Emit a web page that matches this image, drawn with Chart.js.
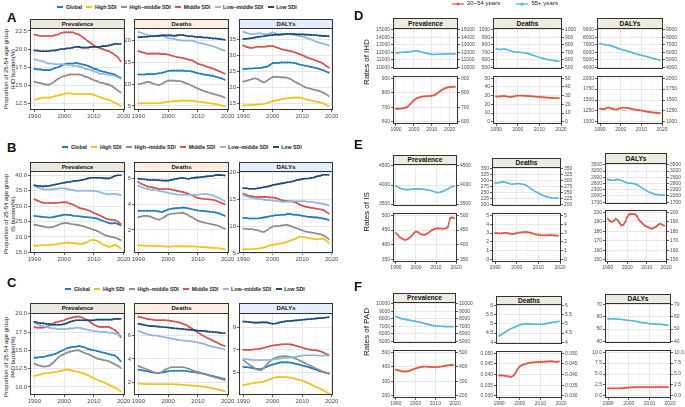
<!DOCTYPE html>
<html>
<head>
<meta charset="utf-8">
<script src="https://cdn.jsdelivr.net/npm/chart.js@4.4.0/dist/chart.umd.min.js"></script>
<style>
  body { margin: 0; background: #fff; font-family: "Liberation Sans", Arial, sans-serif; }
  #fig { position: relative; width: 685px; height: 407px; overflow: hidden; }
  .box { position: absolute; }
  .box canvas { display: block; }
  .strip { position: absolute; box-sizing: border-box; border: 1px solid #333; font-weight: bold; text-align: center; color: #111; white-space: nowrap; }
  .lab { position: absolute; font-weight: bold; font-size: 13px; line-height: 13px; color: #111; }
  .legend { position: absolute; display: flex; justify-content: center; font-size: 5.2px; font-weight: bold; line-height: 8px; color: #222; }
  .li { display: flex; align-items: center; margin: 0 2.2px; white-space: nowrap; }
  .li i { display: inline-block; width: 6px; height: 1.6px; margin-right: 2.5px; }
  .ytitle { position: absolute; text-align: center; white-space: nowrap; transform: translate(-50%, -50%) rotate(-90deg); color: #111; }
</style>
</head>
<body>
<div id="fig"></div>
<script>
// ---- data ----
const years = [1990,1991,1992,1993,1994,1995,1996,1997,1998,1999,2000,2001,2002,2003,2004,
               2005,2006,2007,2008,2009,2010,2011,2012,2013,2014,2015,2016,2017,2018,2019];
const yearsIhdPrev = [1990,1991,1992,1993,1994,1995,1996,1997,1998,1999,2000,2001,2002,2003,2004,2005,2006,
                      2007,2008,2009,2010,2011,2012,2013,2014,2015,2016,2017,2018,2019,2020,2021,2022,2023];
const xTicks = [1990, 2000, 2010, 2020];

const sdiNames = ["Global", "High SDI", "High\u2212middle SDI", "Middle SDI", "Low\u2212middle SDI", "Low SDI"];
const sdiColors = ["#1f7cc4", "#f2c318", "#8e8e8e", "#d6524f", "#8fb7e6", "#1a4d7a"];
const ageNames = ["20\u221254 years", "55+ years"];

// proportion of 25-54 age group (%), rows follow sdiNames
const ihdPrevalence = [
  [17.3,17.2,17.2,17.1,17.1,17.1,17.2,17.4,17.5,17.7,17.9,18.0,18.0,18.0,18.1,18.0,17.9,17.8,17.7,17.5,17.3,17.2,17.0,16.9,16.8,16.7,16.6,16.5,16.2,16.0],
  [13.0,13.1,13.2,13.3,13.3,13.3,13.4,13.5,13.6,13.7,13.8,13.9,13.9,13.8,13.8,13.8,13.8,13.8,13.8,13.8,13.7,13.5,13.4,13.2,13.1,13.0,12.8,12.6,12.4,12.1],
  [15.5,15.4,15.3,15.2,15.1,15.1,15.3,15.6,15.9,16.1,16.3,16.4,16.5,16.5,16.5,16.5,16.4,16.2,16.1,15.9,15.7,15.6,15.4,15.3,15.2,15.1,14.9,14.6,14.3,14.0],
  [22.0,21.9,21.8,21.8,21.8,21.8,21.8,21.9,22.0,22.2,22.3,22.3,22.3,22.3,22.1,22.0,21.7,21.4,21.1,20.8,20.5,20.3,20.1,20.0,19.8,19.7,19.5,19.2,18.9,18.3],
  [18.6,18.5,18.4,18.3,18.1,18.0,18.0,17.9,17.9,17.9,17.9,17.8,17.8,17.7,17.7,17.6,17.5,17.3,17.2,17.1,16.9,16.8,16.6,16.6,16.5,16.5,16.4,16.3,16.1,15.9],
  [19.8,19.8,19.7,19.7,19.7,19.7,19.8,19.8,19.9,20.0,20.0,20.1,20.1,20.2,20.3,20.3,20.2,20.2,20.2,20.3,20.3,20.3,20.3,20.4,20.4,20.5,20.6,20.7,20.7,20.7]
];
const ihdDeaths = [
  [12.2,12.2,12.2,12.3,12.3,12.3,12.4,12.5,12.6,12.8,13.0,13.1,13.1,13.1,13.1,13.1,13.0,13.0,12.9,12.7,12.5,12.4,12.2,12.1,12.0,11.9,11.7,11.5,11.3,11.0],
  [5.6,5.6,5.6,5.6,5.6,5.6,5.6,5.6,5.7,5.8,6.0,6.0,6.1,6.1,6.2,6.2,6.2,6.2,6.2,6.1,5.9,5.9,5.8,5.7,5.6,5.5,5.4,5.3,5.1,4.9],
  [10.0,10.1,10.3,10.5,10.4,10.1,9.9,9.8,10.1,10.5,10.8,10.8,10.8,10.7,10.7,10.5,10.2,10.0,9.6,9.3,9.0,8.7,8.4,8.2,8.0,7.8,7.6,7.4,7.2,6.9],
  [17.6,17.4,17.2,17.0,17.0,17.0,17.0,17.0,16.9,16.9,16.8,16.6,16.4,16.2,16.1,16.0,15.8,15.6,15.5,15.1,14.7,14.5,14.3,14.0,13.8,13.6,13.3,13.0,12.7,12.4],
  [22.0,21.8,21.5,21.3,21.1,21.0,21.1,21.2,21.2,20.9,20.6,20.5,20.4,20.2,20.1,20.0,20.0,20.0,20.0,19.8,19.5,19.4,19.3,19.1,18.9,18.7,18.5,18.2,17.9,17.7],
  [20.8,20.8,20.9,20.9,21.0,21.0,21.1,21.1,21.2,21.2,21.2,21.2,21.1,21.2,21.3,21.3,21.1,21.0,21.0,20.9,20.8,20.8,20.7,20.7,20.6,20.5,20.5,20.4,20.3,20.2]
];
const ihdDalys = [
  [25.8,25.8,25.9,25.9,26.0,26.0,26.1,26.3,26.5,27.0,27.6,27.7,27.7,27.8,27.8,27.8,27.8,27.7,27.5,27.2,27.0,26.8,26.6,26.4,26.2,26.0,25.7,25.4,25.0,24.6],
  [14.2,14.3,14.3,14.4,14.5,14.5,14.6,14.7,15.0,15.3,15.6,15.8,16.0,16.2,16.4,16.5,16.6,16.7,16.8,16.7,16.5,16.2,16.0,15.8,15.6,15.4,15.2,14.9,14.5,14.0],
  [21.8,22.0,22.3,22.6,22.8,22.5,21.9,21.5,22.0,22.7,23.2,23.3,23.2,23.1,23.1,23.0,22.6,22.0,21.5,21.0,20.5,20.0,19.7,19.5,19.2,19.0,18.7,18.3,17.8,17.2],
  [33.2,32.8,32.5,32.4,32.6,32.8,32.8,32.8,32.9,33.0,33.0,32.7,32.3,32.0,31.8,31.6,31.4,31.2,30.8,30.5,30.1,29.7,29.3,29.0,28.7,28.3,28.0,27.5,26.8,26.2],
  [37.5,37.2,36.9,36.8,36.9,37.0,37.0,36.8,36.6,37.0,37.3,37.0,36.6,36.6,36.7,36.8,36.8,36.6,36.4,36.2,36.0,35.7,35.4,35.1,34.7,34.3,34.0,33.8,33.5,33.2],
  [35.2,35.3,35.4,35.5,35.7,35.9,36.0,36.1,36.3,36.4,36.5,36.6,36.6,36.7,36.8,36.8,36.8,36.8,36.7,36.7,36.7,36.6,36.6,36.5,36.5,36.4,36.3,36.2,36.2,36.1]
];
const isPrevalence = [
  [26.8,26.7,26.6,26.5,26.4,26.3,26.4,26.6,26.8,27.0,27.2,27.2,27.1,26.9,26.8,26.7,26.6,26.5,26.4,26.3,26.2,26.0,25.6,25.3,24.9,24.5,24.4,24.5,24.2,23.8],
  [17.2,17.2,17.3,17.3,17.4,17.4,17.5,17.6,17.8,17.9,18.0,18.2,18.1,18.0,17.9,17.8,17.8,18.0,18.5,19.0,19.0,18.8,18.2,17.6,17.2,16.8,17.0,17.5,17.0,16.2],
  [24.0,23.8,23.6,23.4,23.2,23.1,23.2,23.5,23.9,24.3,24.5,24.5,24.3,24.1,24.0,23.8,23.6,23.3,23.0,22.7,22.3,22.0,21.5,21.0,20.5,20.2,20.0,19.8,19.4,19.0],
  [32.2,31.8,31.4,31.1,31.0,31.0,31.0,31.0,31.1,31.2,31.3,31.2,30.8,30.5,30.0,29.5,29.2,29.0,28.7,28.3,27.8,27.4,27.0,26.5,26.0,25.7,25.6,25.5,25.0,24.2],
  [36.5,36.1,35.7,35.5,35.4,35.4,35.5,35.6,35.7,35.8,35.8,35.6,35.4,35.2,35.0,35.0,35.0,35.0,35.0,35.0,34.9,34.8,34.5,34.2,34.0,33.8,33.9,34.0,33.8,33.6],
  [36.8,36.6,36.5,36.4,36.5,36.6,36.8,37.0,37.2,37.4,37.6,37.8,37.9,38.1,38.2,38.3,38.5,38.7,39.0,39.2,39.2,39.2,39.2,39.1,39.0,39.0,39.3,39.8,40.0,40.0]
];
const isDeaths = [
  [3.50,3.50,3.50,3.50,3.50,3.50,3.48,3.44,3.40,3.50,3.60,3.65,3.68,3.70,3.72,3.75,3.72,3.68,3.62,3.57,3.52,3.50,3.48,3.45,3.42,3.40,3.36,3.30,3.20,3.10],
  [0.80,0.79,0.78,0.77,0.76,0.75,0.74,0.73,0.72,0.71,0.70,0.71,0.72,0.72,0.72,0.72,0.72,0.72,0.71,0.71,0.70,0.68,0.66,0.64,0.62,0.60,0.59,0.57,0.54,0.50],
  [3.00,3.05,3.10,3.10,3.05,2.95,2.85,2.80,2.90,3.05,3.20,3.25,3.28,3.30,3.32,3.35,3.25,3.10,3.00,2.85,2.72,2.65,2.58,2.52,2.48,2.42,2.38,2.30,2.20,2.10],
  [5.75,5.60,5.50,5.40,5.35,5.30,5.25,5.20,5.20,5.20,5.20,5.15,5.10,5.05,5.00,4.95,4.90,4.80,4.70,4.60,4.50,4.45,4.42,4.40,4.38,4.35,4.30,4.20,4.10,4.00],
  [5.45,5.35,5.25,5.20,5.15,5.10,5.10,5.05,5.00,4.95,4.90,4.85,4.80,4.77,4.75,4.75,4.75,4.75,4.75,4.75,4.75,4.78,4.80,4.80,4.75,4.70,4.60,4.50,4.38,4.25],
  [6.00,5.98,5.95,5.92,5.90,5.90,5.90,5.88,5.86,5.85,5.85,5.90,5.95,6.00,6.05,6.05,6.02,6.00,6.05,6.08,6.10,6.12,6.15,6.18,6.20,6.22,6.28,6.30,6.28,6.25]
];
const isDalys = [
  [11.5,11.5,11.4,11.4,11.4,11.4,11.5,11.6,11.7,11.8,11.9,12.0,12.0,12.1,12.1,12.2,12.2,12.1,12.1,12.0,11.9,11.8,11.7,11.7,11.6,11.6,11.5,11.4,11.3,11.1],
  [5.7,5.7,5.7,5.7,5.8,5.8,5.9,6.0,6.2,6.4,6.5,6.6,6.7,6.8,6.9,7.1,7.3,7.5,7.7,8.0,8.0,7.9,7.8,7.7,7.6,7.5,7.6,7.7,7.4,6.9],
  [9.5,9.5,9.4,9.4,9.3,9.2,9.0,8.9,9.2,9.6,9.9,10.0,10.0,10.1,10.2,10.2,10.0,9.8,9.6,9.4,9.2,9.0,8.9,8.8,8.7,8.6,8.5,8.3,8.0,7.6],
  [16.0,15.8,15.6,15.5,15.4,15.4,15.4,15.4,15.4,15.3,15.3,15.2,15.0,14.8,14.7,14.6,14.6,14.5,14.3,14.0,13.8,13.6,13.5,13.4,13.3,13.2,13.1,13.0,12.7,12.3],
  [15.7,15.5,15.3,15.2,15.1,15.0,15.0,14.9,14.8,14.8,14.7,14.7,14.6,14.5,14.5,14.5,14.5,14.6,14.6,14.6,14.6,14.6,14.5,14.5,14.4,14.3,14.2,14.1,14.0,13.8],
  [17.0,17.0,16.9,16.9,16.9,17.0,17.1,17.2,17.3,17.4,17.6,17.7,17.8,17.9,18.0,18.1,18.2,18.3,18.5,18.6,18.7,18.8,18.8,18.9,19.0,19.2,19.3,19.5,19.5,19.5]
];
const padPrevalence = [
  [14.0,14.0,14.1,14.1,14.2,14.3,14.4,14.5,14.7,14.9,15.1,15.3,15.4,15.5,15.5,15.6,15.5,15.4,15.2,15.1,15.0,14.9,14.8,14.7,14.6,14.5,14.4,14.3,14.0,13.5],
  [11.5,11.6,11.7,11.8,11.9,11.9,12.0,12.0,12.1,12.2,12.3,12.4,12.3,12.2,12.1,12.0,11.9,11.8,11.6,11.4,11.2,11.0,10.8,10.7,10.5,10.3,10.1,9.9,9.7,9.4],
  [13.2,13.0,12.9,12.8,12.8,12.9,13.2,13.6,14.0,14.3,14.5,14.7,14.8,14.9,15.0,15.0,14.8,14.6,14.5,14.3,14.1,13.9,13.8,13.7,13.6,13.5,13.3,13.1,12.9,12.6],
  [18.2,18.1,18.1,18.1,18.2,18.4,18.6,18.8,18.9,19.0,19.1,19.3,19.4,19.5,19.6,19.6,19.5,19.3,19.1,18.8,18.5,18.3,18.2,18.2,18.2,18.2,18.0,17.8,17.4,16.8],
  [18.8,18.6,18.4,18.3,18.2,18.1,18.0,18.0,17.9,17.9,17.9,17.9,18.0,18.0,18.1,18.1,18.0,17.9,17.8,17.7,17.6,17.6,17.5,17.5,17.5,17.4,17.4,17.3,17.2,17.0],
  [18.9,18.8,18.7,18.7,18.6,18.6,18.5,18.5,18.5,18.5,18.6,18.7,18.9,19.0,19.1,19.1,19.1,19.1,19.1,19.1,19.1,19.2,19.2,19.2,19.2,19.2,19.2,19.3,19.3,19.3]
];
const padDeaths = [
  [3.10,3.05,3.00,2.95,2.90,2.85,2.80,2.82,2.85,2.90,2.95,3.00,3.00,3.00,3.00,3.00,2.97,2.93,2.90,2.87,2.83,2.78,2.73,2.67,2.60,2.55,2.48,2.42,2.35,2.30],
  [1.90,1.89,1.88,1.87,1.86,1.85,1.85,1.85,1.85,1.85,1.85,1.85,1.84,1.83,1.82,1.80,1.78,1.76,1.74,1.72,1.70,1.67,1.63,1.59,1.55,1.50,1.45,1.38,1.32,1.25],
  [3.40,3.30,3.20,3.10,3.00,2.90,2.80,2.80,2.90,3.10,3.20,3.30,3.30,3.30,3.30,3.30,3.25,3.15,3.05,2.95,2.90,2.82,2.75,2.65,2.58,2.50,2.42,2.35,2.28,2.20],
  [7.60,7.55,7.48,7.42,7.38,7.35,7.30,7.30,7.32,7.30,7.28,7.25,7.20,7.15,7.10,7.00,6.90,6.75,6.60,6.42,6.25,6.10,5.95,5.82,5.70,5.58,5.45,5.32,5.20,5.10],
  [6.40,6.30,6.20,6.10,6.05,6.00,6.00,5.95,5.90,5.85,5.80,5.75,5.70,5.65,5.60,5.58,5.55,5.52,5.50,5.45,5.40,5.35,5.30,5.20,5.12,5.05,5.00,4.95,4.88,4.80],
  [7.00,6.95,6.90,6.85,6.80,6.80,6.78,6.75,6.72,6.70,6.68,6.65,6.62,6.60,6.58,6.55,6.52,6.50,6.48,6.45,6.42,6.40,6.38,6.35,6.32,6.30,6.28,6.25,6.22,6.20]
];
const padDalys = [
  [5.50,5.48,5.45,5.40,5.35,5.32,5.30,5.40,5.52,5.62,5.70,5.78,5.85,5.90,5.90,5.90,5.88,5.82,5.76,5.70,5.62,5.55,5.48,5.40,5.32,5.22,5.12,5.05,4.98,4.92],
  [3.90,3.95,4.00,4.05,4.10,4.12,4.15,4.20,4.30,4.40,4.50,4.58,4.60,4.60,4.60,4.58,4.55,4.50,4.42,4.35,4.28,4.18,4.08,3.95,3.82,3.70,3.58,3.45,3.30,3.15],
  [6.10,5.90,5.70,5.55,5.35,5.25,5.20,5.40,5.70,6.00,6.20,6.30,6.38,6.42,6.45,6.42,6.38,6.30,6.20,6.08,5.95,5.82,5.70,5.58,5.45,5.32,5.20,5.08,4.98,4.90],
  [7.00,7.00,7.00,7.02,7.05,7.08,7.12,7.18,7.25,7.32,7.38,7.42,7.45,7.48,7.50,7.50,7.48,7.42,7.35,7.28,7.20,7.12,7.05,7.00,6.98,6.95,6.88,6.78,6.65,6.55],
  [6.20,6.18,6.15,6.12,6.10,6.10,6.10,6.10,6.10,6.12,6.15,6.18,6.22,6.25,6.28,6.30,6.33,6.36,6.40,6.45,6.50,6.52,6.52,6.52,6.52,6.50,6.50,6.50,6.50,6.50],
  [9.50,9.48,9.45,9.42,9.40,9.40,9.42,9.42,9.42,9.35,9.30,9.32,9.40,9.45,9.50,9.55,9.55,9.58,9.60,9.62,9.65,9.68,9.70,9.72,9.75,9.78,9.80,9.82,9.85,9.88]
];

// rates by age group (55+ = old, 20-54 = young)
const ihdPrevOld = [11900,11920,11950,11980,12000,12000,12020,12050,12080,12120,12150,12200,12180,12120,12050,11980,11920,11870,11820,11780,11730,11700,11700,11710,11720,11730,11740,11750,11760,11770,11780,11780,11790,11790];
const ihdPrevYoung = [690,690,691,692,693,695,700,710,722,735,748,757,763,768,772,774,775,776,777,778,779,782,787,795,805,814,822,829,834,837,839,840,841,841];
const ihdDeathsOld = [745,740,735,742,745,735,725,715,708,702,700,698,695,692,688,680,670,660,650,640,630,622,615,607,600,595,590,585,580,578];
const ihdDeathsYoung = [29.0,29.0,29.2,29.5,29.5,29.0,28.7,28.5,29.0,29.5,30.0,30.0,30.0,29.8,29.6,29.5,29.3,29.1,28.9,28.7,28.5,28.3,28.1,27.9,27.7,27.5,27.3,27.2,27.1,27.0];
const ihdDalysOld = [7150,7100,7020,6980,6950,6900,6800,6700,6600,6480,6380,6320,6250,6180,6100,6000,5900,5820,5740,5660,5600,5530,5450,5380,5300,5220,5150,5080,5010,4950];
const ihdDalysYoung = [1300,1295,1290,1310,1330,1315,1300,1285,1280,1300,1315,1325,1325,1320,1310,1300,1290,1280,1270,1265,1260,1250,1240,1232,1225,1218,1212,1207,1203,1200];
const isPrevOld = [3980,3950,3920,3900,3890,3880,3880,3885,3890,3895,3900,3900,3895,3890,3885,3880,3870,3860,3845,3825,3810,3800,3810,3830,3850,3875,3900,3930,3955,3970];
const isPrevYoung = [440,433,426,421,418,417,420,425,432,440,445,443,438,435,434,436,440,445,450,453,455,456,455,455,455,456,462,490,493,490];
const isDeathsOld = [290,290,292,294,295,292,289,286,285,286,287,287,286,284,282,277,270,263,257,252,247,242,238,234,231,229,227,226,226,226];
const isDeathsYoung = [3.00,2.98,2.96,2.97,3.00,3.00,2.97,2.92,2.88,2.92,3.00,3.05,3.08,3.10,3.12,3.10,3.05,2.98,2.90,2.84,2.80,2.76,2.74,2.74,2.75,2.75,2.75,2.74,2.72,2.70];
const isDalysOld = [2800,2780,2760,2750,2780,2800,2780,2740,2700,2660,2630,2620,2610,2600,2580,2540,2480,2420,2360,2300,2250,2200,2160,2120,2090,2070,2055,2045,2035,2030];
const isDalysYoung = [193,191,190,191,193,192,189,186,187,190,195,198,198,198,198,196,192,190,188,186,185,184,183,183,184,185,187,188,187,186];
const padPrevOld = [8300,8200,8100,8000,7950,7900,7850,7800,7750,7700,7650,7600,7550,7480,7400,7330,7270,7200,7150,7100,7050,7020,7000,6980,6970,6960,6950,6950,6950,6950];
const padPrevYoung = [380,376,372,369,367,367,369,373,378,383,388,392,396,399,401,401,400,399,398,397,396,397,399,401,404,407,409,411,412,412];
const padDeathsOld = [4.35,4.40,4.48,4.55,4.63,4.70,4.75,4.80,4.85,4.90,4.95,4.97,4.99,5.00,5.00,5.00,4.99,4.98,4.98,4.98,4.98,4.99,5.01,5.03,5.05,5.07,5.09,5.11,5.13,5.15];
const padDeathsYoung = [0.0395,0.0396,0.0395,0.0394,0.0392,0.0390,0.0389,0.0395,0.0408,0.0425,0.0437,0.0443,0.0447,0.0450,0.0453,0.0455,0.0456,0.0457,0.0458,0.0458,0.0459,0.0460,0.0460,0.0461,0.0461,0.0462,0.0461,0.0460,0.0459,0.0461];
const padDalysOld = [58.5,58.5,58.5,58.5,58.4,58.2,58.0,57.8,57.6,57.4,57.2,57.0,56.8,56.5,56.2,55.8,55.5,55.2,55.0,54.7,54.5,54.3,54.2,54.1,54.0,53.9,53.8,53.6,53.3,53.1];
const padDalysYoung = [1.70,1.70,1.70,1.70,1.70,1.70,1.72,1.75,1.80,1.85,1.90,1.92,1.95,1.97,1.98,2.00,2.00,2.00,2.00,2.00,2.00,2.00,2.00,2.00,2.00,2.00,2.00,2.00,2.00,2.00];

// ---- drawing helpers ----
Chart.defaults.font.family = "'Liberation Sans', Arial, sans-serif";
const fig = document.getElementById("fig");
const RED = "#e5533f", CYAN = "#4fb9db";

function el(cls, css, text) {
  const d = document.createElement("div");
  d.className = cls;
  Object.assign(d.style, css);
  if (text !== undefined) d.textContent = text;
  fig.appendChild(d);
  return d;
}

// major ticks plus half-step minor ticks (grid only)
function tickObjs(major, min, max) {
  const step = major.length > 1 ? major[1] - major[0] : 1;
  const list = [{ value: major[0] - step / 2, minor: true }];
  major.forEach(v => {
    list.push({ value: v, minor: false });
    list.push({ value: v + step / 2, minor: true });
  });
  return list.filter(t => t.value >= min - 1e-9 && t.value <= max + 1e-9);
}

const isMinor = c => c.tick && c.tick.minor;
const gridColor = c => isMinor(c) ? "#f2f2f2" : "#e4e4e4";
const gridWidth = c => isMinor(c) ? 0.5 : 0.9;
const tickColor = c => isMinor(c) ? "rgba(0,0,0,0)" : "#333";

const boxBorder = {
  id: "boxBorder",
  afterDraw(chart) {
    const a = chart.chartArea, ctx = chart.ctx;
    ctx.save();
    ctx.strokeStyle = "#333";
    ctx.lineWidth = 1;
    ctx.strokeRect(Math.round(a.left) + 0.5, Math.round(a.top) + 0.5, Math.round(a.width) - 1, Math.round(a.height) - 1);
    ctx.restore();
  }
};

function plot(o) {
  const T = 5;
  const B = o.xLabels ? 10 : 0;
  const R = o.R || 0;
  const padR = R ? 0 : (o.padRight || 0);
  const W = o.L + o.w + R + padR;
  const H = T + (o.bot - o.top) + B;
  const wrap = el("box", { left: (o.x - o.L) + "px", top: (o.top - T) + "px", width: W + "px", height: H + "px" });
  const cv = document.createElement("canvas");
  cv.width = W; cv.height = H;
  cv.style.width = W + "px"; cv.style.height = H + "px";
  wrap.appendChild(cv);
  const font = { size: o.fontSize };

  const yAxis = (pos, width) => ({
    type: "linear", position: pos, min: o.ymin, max: o.ymax,
    afterBuildTicks: s => { s.ticks = tickObjs(o.yticks, o.ymin, o.ymax); },
    afterFit: s => { s.width = width; s.paddingTop = 0; s.paddingBottom = 0; },
    ticks: { autoSkip: false, padding: 1, color: "#4d4d4d", font, callback: (v, i, t) => t[i].minor ? "" : o.fmt(v) },
    grid: { drawOnChartArea: pos === "left", color: gridColor, lineWidth: gridWidth, tickLength: 2, tickWidth: 0.8, tickColor },
    border: { display: false }
  });

  const scales = {
    x: {
      type: "linear", min: o.xmin, max: o.xmax,
      afterBuildTicks: s => { s.ticks = tickObjs(xTicks, o.xmin, o.xmax); },
      afterFit: s => { s.height = B; s.paddingLeft = 0; s.paddingRight = 0; },
      ticks: { display: o.xLabels, autoSkip: false, maxRotation: 0, padding: 0.5, color: "#4d4d4d", font, callback: (v, i, t) => t[i].minor ? "" : String(v) },
      grid: { color: gridColor, lineWidth: gridWidth, drawTicks: o.xLabels, tickLength: 2, tickWidth: 0.8, tickColor },
      border: { display: false }
    },
    y: yAxis("left", o.L)
  };
  if (R) scales.y2 = yAxis("right", R);

  new Chart(cv, {
    type: "line",
    data: { datasets: o.datasets },
    options: {
      responsive: false, animation: false, events: [],
      layout: { padding: { top: T, right: padR, bottom: 0, left: 0 } },
      plugins: { legend: { display: false }, tooltip: { enabled: false } },
      scales
    },
    plugins: [boxBorder]
  });
}

function pts(xs, vals) {
  return xs.map((yr, i) => ({ x: yr, y: vals[i] }));
}

function strip(x, w, top, plotTop, text, bg, fs) {
  el("strip", {
    left: x + "px", top: top + "px", width: w + "px", height: (plotTop - top + 1) + "px",
    background: bg, fontSize: fs + "px", lineHeight: (plotTop - top - 1) + "px"
  }, text);
}

// ---- left block: proportion of 25-54 age group, by SDI ----
const leftCols = [
  { x: 30, w: 95, name: "Prevalence", bg: "#ebe9df" },
  { x: 134, w: 95, name: "Deaths", bg: "#fdf0e2" },
  { x: 239, w: 94, name: "DALYs", bg: "#e3eefa" }
];
const fmt1 = v => v.toFixed(1);
const fmt0 = v => String(v);
const leftRows = [
  { strip: 19, top: 28, bot: 110, label: "A", labTop: 11, legY: 7, legX: 177, cause: "IHD", titleY: 69,
    panels: [
      { data: ihdPrevalence, ymin: 11.6, ymax: 22.9, ticks: [12.5, 15, 17.5, 20, 22.5], fmt: fmt1 },
      { data: ihdDeaths, ymin: 4.05, ymax: 22.9, ticks: [5, 10, 15, 20], fmt: fmt0 },
      { data: ihdDalys, ymin: 12.8, ymax: 38.7, ticks: [15, 20, 25, 30, 35], fmt: fmt0 }
    ] },
  { strip: 162, top: 171, bot: 253, label: "B", labTop: 141, legY: 147, legX: 182, cause: "IS", titleY: 214,
    panels: [
      { data: isPrevalence, ymin: 14.8, ymax: 41.4, ticks: [15, 20, 25, 30, 35, 40], fmt: fmt1 },
      { data: isDeaths, ymin: 0.2, ymax: 6.6, ticks: [2, 4, 6], fmt: fmt0 },
      { data: isDalys, ymin: 5.0, ymax: 20.2, ticks: [5, 10, 15, 20], fmt: fmt0 }
    ] },
  { strip: 303, top: 313, bot: 395, label: "C", labTop: 276, legY: 289, legX: 185, cause: "PAD", titleY: 357,
    panels: [
      { data: padPrevalence, ymin: 8.9, ymax: 20.1, ticks: [10, 12.5, 15, 17.5, 20], fmt: fmt1 },
      { data: padDeaths, ymin: 0.93, ymax: 7.92, ticks: [2, 4, 6], fmt: fmt0 },
      { data: padDalys, ymin: 3.02, ymax: 10.25, ticks: [5, 7, 9], fmt: fmt0 }
    ] }
];

leftRows.forEach(row => {
  el("lab", { left: "7px", top: row.labTop + "px" }, row.label);
  const leg = el("legend", { left: (row.legX - 150) + "px", top: (row.legY - 4) + "px", width: "300px" });
  sdiNames.forEach((n, i) => {
    const it = document.createElement("span");
    it.className = "li";
    it.innerHTML = '<i style="background:' + sdiColors[i] + '"></i>' + n;
    leg.appendChild(it);
  });
  el("ytitle", { left: "10px", top: row.titleY + "px", fontSize: "6px", lineHeight: "7px" }).innerHTML =
    "Proportion of 25-54 age group<br>" + row.cause + " burden(%)";

  row.panels.forEach((p, c) => {
    const col = leftCols[c];
    strip(col.x, col.w, row.strip, row.top, col.name, col.bg, 6);
    plot({
      x: col.x, w: col.w, top: row.top, bot: row.bot, L: 20, padRight: 8, xLabels: true, fontSize: 6,
      xmin: 1988.55, xmax: 2020.45, ymin: p.ymin, ymax: p.ymax, yticks: p.ticks, fmt: p.fmt,
      datasets: p.data.map((vals, i) => ({
        data: pts(years, vals), borderColor: sdiColors[i], backgroundColor: sdiColors[i],
        borderWidth: 1.6, pointRadius: 0.9, pointBorderWidth: 0, pointBackgroundColor: sdiColors[i],
        tension: 0, fill: false, order: 5 - i
      }))
    });
  });
});

// ---- right block: rates by age group ----
const rightRows = [
  { label: "D", labTop: 9, cause: "IHD", titleY: 62,
    panels: [
      { name: "Prevalence", x: 393, w: 65, strip: 18, uTop: 28, uBot: 73, lTop: 76, lBot: 124, xs: yearsIhdPrev, xmin: 1988.35, xmax: 2024.65,
        old: ihdPrevOld, oMin: 9750, oMax: 15250, oTicks: [10000, 11000, 12000, 13000, 14000, 15000],
        young: ihdPrevYoung, yMin: 585, yMax: 915, yTicks: [600, 700, 800, 900], fmt: fmt0 },
      { name: "Deaths", x: 493, w: 69, strip: 18, uTop: 28, uBot: 73, lTop: 76, lBot: 124, xs: years, xmin: 1988.55, xmax: 2020.45,
        old: ihdDeathsOld, oMin: 475, oMax: 1025, oTicks: [500, 600, 700, 800, 900, 1000],
        young: ihdDeathsYoung, yMin: -2.5, yMax: 52.5, yTicks: [0, 10, 20, 30, 40, 50], fmt: fmt0 },
      { name: "DALYs", x: 597, w: 66, strip: 18, uTop: 28, uBot: 73, lTop: 76, lBot: 124, xs: years, xmin: 1988.55, xmax: 2020.45,
        old: ihdDalysOld, oMin: 3750, oMax: 9250, oTicks: [4000, 5000, 6000, 7000, 8000, 9000],
        young: ihdDalysYoung, yMin: 950, yMax: 2050, yTicks: [1000, 1250, 1500, 1750, 2000], fmt: fmt0 }
    ] },
  { label: "E", labTop: 138, cause: "IS", titleY: 212,
    panels: [
      { name: "Prevalence", x: 393, w: 64, strip: 155, uTop: 164, uBot: 210, lTop: 213, lBot: 262, xs: years, xmin: 1988.55, xmax: 2020.45,
        old: isPrevOld, oMin: 3450, oMax: 4550, oTicks: [3500, 4000, 4500],
        young: isPrevYoung, yMin: 342.5, yMax: 507.5, yTicks: [350, 400, 450, 500], fmt: fmt0 },
      { name: "Deaths", x: 492, w: 69, strip: 158, uTop: 167, uBot: 210, lTop: 213, lBot: 262, xs: years, xmin: 1988.55, xmax: 2020.45,
        old: isDeathsOld, oMin: 192.5, oMax: 357.5, oTicks: [200, 225, 250, 275, 300, 325, 350],
        young: isDeathsYoung, yMin: -0.25, yMax: 5.25, yTicks: [0, 1, 2, 3, 4, 5], fmt: fmt0 },
      { name: "DALYs", x: 605, w: 62, strip: 153, uTop: 163, uBot: 208, lTop: 210, lBot: 262, xs: years, xmin: 1988.55, xmax: 2020.45,
        old: isDalysOld, oMin: 1610, oMax: 3590, oTicks: [1700, 2000, 2300, 2600, 2900, 3200, 3500],
        young: isDalysYoung, yMin: 147.5, yMax: 202.5, yTicks: [150, 160, 170, 180, 190, 200], fmt: fmt0 }
    ] },
  { label: "F", labTop: 280, cause: "PAD", titleY: 332,
    panels: [
      { name: "Prevalence", x: 393, w: 63, strip: 293, uTop: 302, uBot: 347, lTop: 350, lBot: 398, xs: years, xmin: 1988.55, xmax: 2020.45,
        old: padPrevOld, oMin: 4750, oMax: 10250, oTicks: [5000, 6000, 7000, 8000, 9000, 10000],
        young: padPrevYoung, yMin: 185, yMax: 515, yTicks: [200, 300, 400, 500], fmt: fmt0 },
      { name: "Deaths", x: 496, w: 66, strip: 296, uTop: 304, uBot: 348, lTop: 351, lBot: 398, xs: years, xmin: 1988.55, xmax: 2020.45,
        old: padDeathsOld, oMin: 3.9, oMax: 6.1, oTicks: [4, 4.5, 5, 5.5, 6],
        young: padDeathsYoung, yMin: 0.029, yMax: 0.051, yTicks: [0.030, 0.035, 0.040, 0.045, 0.050], fmt: v => v.toFixed(3) },
      { name: "DALYs", x: 605, w: 66, strip: 294, uTop: 303, uBot: 347, lTop: 350, lBot: 398, xs: years, xmin: 1988.55, xmax: 2020.45,
        old: padDalysOld, oMin: 38.5, oMax: 71.5, oTicks: [40, 50, 60, 70],
        young: padDalysYoung, yMin: -0.5, yMax: 10.5, yTicks: [0, 2.5, 5, 7.5, 10], fmt: v => v.toFixed(1) }
    ] }
];

rightRows.forEach(row => {
  el("lab", { left: "354px", top: row.labTop + "px" }, row.label);
  el("ytitle", { left: "366px", top: row.titleY + "px", fontSize: "8px", lineHeight: "9px" }, "Rates of " + row.cause);
  row.panels.forEach(p => {
    strip(p.x, p.w, p.strip, p.uTop, p.name, "#eeebdf", 6.6);
    plot({
      x: p.x, w: p.w, top: p.uTop, bot: p.uBot, L: 24, R: 24, xLabels: false, fontSize: 5,
      xmin: p.xmin, xmax: p.xmax, ymin: p.oMin, ymax: p.oMax, yticks: p.oTicks, fmt: fmt0,
      datasets: [{
        data: pts(p.xs, p.old), borderColor: CYAN, backgroundColor: CYAN, borderWidth: 1.4,
        pointStyle: "triangle", pointRadius: 1.3, pointBorderWidth: 0, pointBackgroundColor: CYAN, tension: 0, fill: false
      }]
    });
    plot({
      x: p.x, w: p.w, top: p.lTop, bot: p.lBot, L: 24, R: 24, xLabels: true, fontSize: 5,
      xmin: p.xmin, xmax: p.xmax, ymin: p.yMin, ymax: p.yMax, yticks: p.yTicks, fmt: p.fmt,
      datasets: [{
        data: pts(p.xs, p.young), borderColor: RED, backgroundColor: RED, borderWidth: 1.4,
        pointStyle: "cross", pointRadius: 1.2, pointBorderWidth: 0.7, pointBorderColor: RED, tension: 0, fill: false
      }]
    });
  });
});

// right legend
const rleg = el("legend", { left: "440px", top: "-1px", width: "160px", fontSize: "6px", fontWeight: "normal", lineHeight: "9px", justifyContent: "flex-start" });
rleg.innerHTML =
  '<span class="li" style="margin-left:12px"><svg width="12" height="6"><line x1="0" y1="3" x2="12" y2="3" stroke="' + RED + '" stroke-width="1.2"/>' +
  '<line x1="4.5" y1="3" x2="7.5" y2="3" stroke="' + RED + '" stroke-width="2"/><line x1="6" y1="1.5" x2="6" y2="4.5" stroke="' + RED + '" stroke-width="1"/></svg>' +
  '<span style="margin-left:3px">' + ageNames[0] + '</span></span>' +
  '<span class="li" style="margin-left:14px"><svg width="12" height="6"><line x1="0" y1="3" x2="12" y2="3" stroke="' + CYAN + '" stroke-width="1.2"/>' +
  '<polygon points="6,1 8,4.5 4,4.5" fill="' + CYAN + '"/></svg>' +
  '<span style="margin-left:3px">' + ageNames[1] + '</span></span>';
</script>
</body>
</html>
